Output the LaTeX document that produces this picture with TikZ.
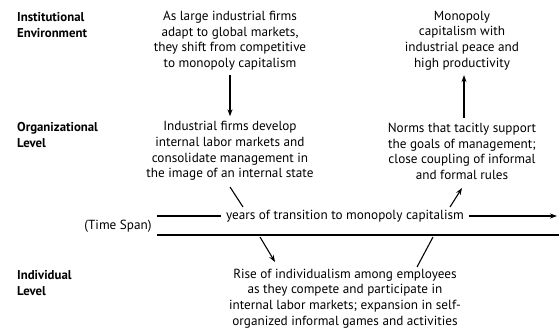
\documentclass[tikz,border=0pt]{standalone}
\usepackage{fontspec}
\setmainfont{PT Sans}
\usetikzlibrary{arrows.meta}
\begin{document}
\begin{tikzpicture}[x=1pt,y=-1pt,
  txt/.style={align=center, font=\fontsize{13.2}{15.6}\selectfont, inner sep=0pt},
  lbl/.style={align=left, anchor=west, font=\bfseries\fontsize{12.8}{15.6}\selectfont, inner sep=0pt},
  arr/.style={-{Stealth[length=7pt,width=5pt]}, line width=1.1pt},
  ln/.style={line width=1.1pt}]
\useasboundingbox[fill=white] (0,0) rectangle (559,331);
\node[lbl] (inst) at (17,25) {Institutional\\Environment};
\node[lbl] (org) at (17,135) {Organizational\\Level};
\node[lbl] (indl) at (17,283) {Individual\\Level};
\node[txt] (t1) at (230,40.5) {As large industrial firms\\adapt to global markets,\\they shift from competitive\\to monopoly capitalism};
\node[txt] (t2) at (462,40.5) {Monopoly\\capitalism with\\industrial peace and\\high productivity};
\node[txt] (m1) at (230,151) {Industrial firms develop\\internal labor markets and\\consolidate management in\\the image of an internal state};
\node[txt] (m2) at (462,151.5) {Norms that tacitly support\\the goals of management;\\close coupling of informal\\and formal rules};
\node[txt] (b) at (345,298.5) {Rise of individualism among employees\\as they compete and participate in\\internal labor markets; expansion in self-\\organized informal games and activities};
\node[txt] (span) at (118,226) {(Time Span)};
\node[txt, inner xsep=5pt] (yrs) at (345,216) {years of transition to monopoly capitalism};
\coordinate (ts) at (157,216);
\coordinate (te) at (557,216);
\coordinate (l0) at (157,235);
\coordinate (l1) at (559,235);
\draw[ln] (ts) -- (yrs.west);
\draw[arr] (yrs.east) -- (te);
\draw[ln] (l0) -- (l1);
\draw[arr, shorten <=5pt, shorten >=5pt] (t1.south) -- (m1.north);
\draw[arr, shorten <=5pt, shorten >=5pt] ([xshift=2pt]m2.north) -- ([xshift=2pt]t2.south);
\coordinate (da) at (230,187);
\coordinate (db) at (243,207);
\coordinate (dc) at (260,237);
\coordinate (dd) at (275,262);
\draw[ln] (da) -- (db);
\draw[arr] (dc) -- (dd);
\coordinate (ea) at (417,267);
\coordinate (eb) at (433,237);
\coordinate (ec) at (450,207);
\coordinate (ed) at (462,188);
\draw[ln] (ea) -- (eb);
\draw[arr] (ec) -- (ed);
\end{tikzpicture}
\end{document}
